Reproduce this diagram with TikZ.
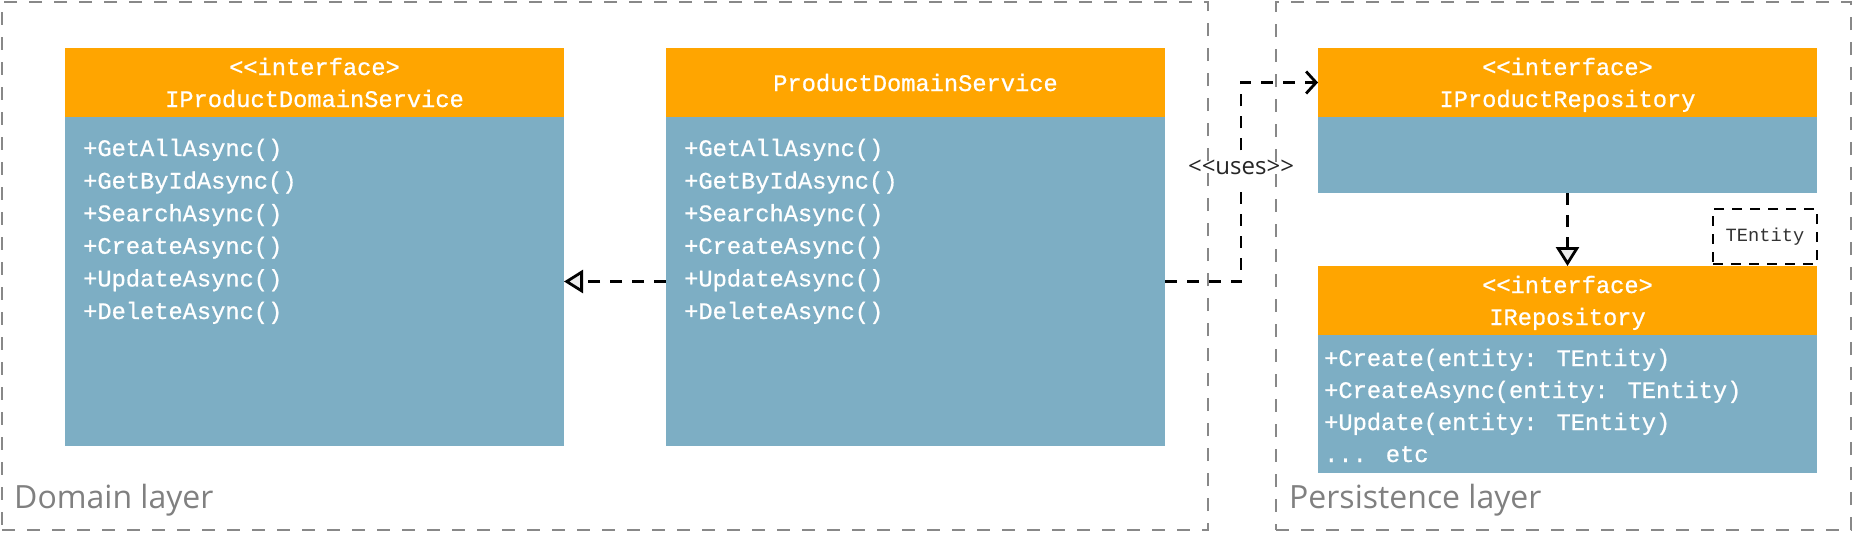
\documentclass[tikz,border=0pt]{standalone}
\usepackage{fontspec}
\setmainfont{Open Sans}[Ligatures=TeXOff]
\newfontfamily\monofont{Liberation Mono}[Ligatures=TeXOff]
\newfontfamily\monoboldish{Liberation Mono}[Ligatures=TeXOff, FakeBold=0.8]
\usetikzlibrary{arrows.meta}
\definecolor{orangeC}{HTML}{FFA500}
\definecolor{blueC}{HTML}{7DAEC4}
\definecolor{grayC}{HTML}{888888}
\definecolor{grayT}{HTML}{808080}
\definecolor{tgray}{HTML}{333333}
\tikzset{
  hdr/.style={fill=orangeC, draw=none, minimum width=499pt, minimum height=69pt, anchor=north west, inner sep=0pt, outer sep=0pt},
  bdy/.style={fill=blueC, draw=none, minimum width=499pt, anchor=north west, inner sep=0pt, outer sep=0pt},
  hdrtxt/.style={text=white, font=\monoboldish\fontsize{23.7}{32}\selectfont, align=center, anchor=base, inner sep=0pt},
  mtxt/.style={text=white, font=\monoboldish\fontsize{23.7}{32.6}\selectfont, align=left, anchor=base west, inner sep=0pt},
  layer/.style={draw=grayC, line width=2.2pt, dash pattern=on 13pt off 12pt, anchor=north west, inner sep=0pt, outer sep=0pt},
  layertxt/.style={text=grayT, font=\fontsize{32}{38}\selectfont, anchor=base west, inner sep=0pt},
  conn/.style={draw=black, line width=2.8pt, dash pattern=on 12pt off 10pt},
  realarrow/.style={conn, -{Triangle[length=19pt, width=23pt, fill=white!92!black]}},
  usesarrow/.style={conn, -{Straight Barb[length=10pt, width=22pt]}},
  usestxt/.style={text=black!85, font=\fontsize{24}{28}\selectfont, inner xsep=2pt, inner ysep=9pt},
  tentbox/.style={draw=black, line width=2.8pt, dash pattern=on 10pt off 8pt, minimum width=104pt, minimum height=55pt, inner sep=0pt, text=tgray, font=\monofont\fontsize{18.7}{22}\selectfont},
}
\begin{document}
\begin{tikzpicture}[x=1pt,y=-1pt]
\useasboundingbox (0,0) rectangle (1855,539);

% IProductDomainService (multi-line nodes: base = baseline of last line)
\node[hdr] (ipdsh) at (65,48) {};
\node[bdy, minimum height=329pt] (ipdsb) at (65,117) {};
\node[hdrtxt] (ipdst) at (314.5,107) {<<interface>\\IProductDomainService};
\node[mtxt] (ipdsm) at (83,319) {+GetAllAsync()\\+GetByIdAsync()\\+SearchAsync()\\+CreateAsync()\\+UpdateAsync()\\+DeleteAsync()};

% ProductDomainService
\node[hdr] (pdsh) at (666,48) {};
\node[bdy, minimum height=329pt] (pdsb) at (666,117) {};
\node[hdrtxt] (pdst) at (915.5,91) {ProductDomainService};
\node[mtxt] (pdsm) at (684,319) {+GetAllAsync()\\+GetByIdAsync()\\+SearchAsync()\\+CreateAsync()\\+UpdateAsync()\\+DeleteAsync()};

% IProductRepository
\node[hdr] (iprh) at (1318,48) {};
\node[bdy, minimum height=76pt] (iprb) at (1318,117) {};
\node[hdrtxt] (iprt) at (1567.5,107) {<<interface>\\IProductRepository};

% IRepository
\node[hdr] (irh) at (1318,266) {};
\node[bdy, minimum height=138pt] (irb) at (1318,335) {};
\node[hdrtxt] (irt) at (1567.5,325) {<<interface>\\IRepository};
\node[mtxt, font=\monoboldish\fontsize{23.7}{32}\selectfont] (irm) at (1324,462) {+Create(entity: TEntity)\\+CreateAsync(entity: TEntity)\\+Update(entity: TEntity)\\... etc};

% TEntity template parameter
\node[tentbox] (tent) at (1765,236.5) {TEntity};

% connectors
\draw[realarrow] (pdsb.west) -- (ipdsb.east);
\node[usestxt] (uses) at (1241,167) {<<uses>>};
\draw[conn] (pdsb.east) -| (uses);
\draw[usesarrow] (uses) |- (iprh.west);
\draw[realarrow] (iprb.south) -- (irh.north);

% layers
\node[layer, minimum width=1206pt, minimum height=528pt] (domain) at (2,2) {};
\node[layer, minimum width=575pt, minimum height=528pt] (persist) at (1276,2) {};
\node[layertxt] (domaint) at (14,508) {Domain layer};
\node[layertxt] (persistt) at (1289,508) {Persistence layer};
\end{tikzpicture}
\end{document}
